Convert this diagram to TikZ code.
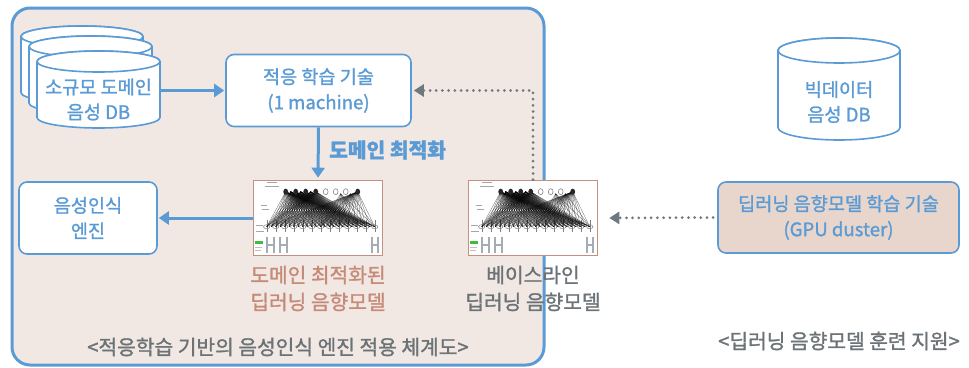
\documentclass[tikz,border=0pt]{standalone}
\usepackage{fontspec}
\setmainfont{Noto Sans CJK KR}[RawFeature={embolden=1.3}]
\usetikzlibrary{arrows.meta}

\definecolor{panelblue}{HTML}{5B9BD5}
\definecolor{panelfill}{HTML}{F1E8E4}
\definecolor{modelbrown}{HTML}{C4907F}
\definecolor{modeltext}{HTML}{C68A78}
\definecolor{capgray}{HTML}{6C7377}
\definecolor{dotgray}{HTML}{6F787F}
\definecolor{gpufill}{HTML}{E8D6CC}
\definecolor{bargray}{HTML}{A4ACB4}

% cylinder: left, right, top-ellipse centre y, bottom-ellipse centre y, y radius
\newcommand\dbdrum[5]{%
  \pgfmathsetmacro\drumrx{(#2-#1)/2}%
  \filldraw[dbline] (#1,#4)
    arc[start angle=180,end angle=360,x radius=\drumrx pt,y radius=#5pt]
    -- (#2,#3)
    arc[start angle=0,end angle=180,x radius=\drumrx pt,y radius=#5pt] -- cycle;
  \draw[dbline] ({(#1+#2)/2},#3) ellipse[x radius=\drumrx pt,y radius=#5pt];
}

\tikzset{
  dbline/.style={draw=panelblue, line width=1.6pt, fill=white},
  dbtext/.style={text=panelblue, font=\fontsize{18.6}{25}\selectfont, align=center, inner sep=0pt},
  whitebox/.style={draw=panelblue, line width=1.6pt, fill=white, rounded corners=8pt,
    text=panelblue, font=\fontsize{18.6}{25.5}\selectfont, align=center},
  gpubox/.style={whitebox, fill=gpufill},
  modelbox/.style={draw=modelbrown, line width=1.6pt, fill=white,
    minimum width=129pt, minimum height=75pt, inner sep=0pt},
  modellabel/.style={font=\fontsize{20.3}{27}\selectfont, align=center, inner sep=0pt},
  steplabel/.style={text=panelblue, font=\fontsize{20.3}{24}\selectfont\bfseries, inner sep=0pt},
  caption/.style={text=capgray, font=\fontsize{20.3}{24}\selectfont, inner sep=0pt},
  bluearrow/.style={draw=panelblue, line width=3pt,
    -{Triangle[length=10pt,width=13pt]}},
  dotarrow/.style={draw=dotgray, line width=3pt, line cap=round,
    dash pattern=on 0pt off 6.2pt, -{Triangle[length=10pt,width=12pt]}},
  netline/.style={black, opacity=0.5, line width=0.4pt},
  nnet/.pic={
    % fan of connections between the layers
    \foreach \t in {33,38,43,48,53,58,63,105}
      \foreach \b in {14,18.5,...,122}
        \draw[netline] (\t,12) -- (\b,47);
    \foreach \t in {88,98}
      \foreach \b in {68,77,...,122}
        \draw[netline] (\t,14) -- (\b,47);
    \foreach \b in {14,23,...,122} {
      \draw[netline] (\b,40) -- (\b,52);
      \draw[black!50, line width=0.5pt] (\b,47) ellipse[x radius=3.2pt, y radius=2pt];
    }
    \foreach \t in {33,43,53,63,105}
      \fill[black!85] (\t,12) ellipse[x radius=2.4pt, y radius=3pt];
    \foreach \t in {73,83,93}
      \draw[black!55, line width=0.5pt] (\t,12) ellipse[x radius=2.4pt, y radius=3pt];
    % small captions of the layers
    \draw[black!35, line width=0.8pt] (14,3) -- (24,3) (12,7) -- (26,7)
      (8,26) -- (14,26) (9,30) -- (16,30) (3,46) -- (10,46) (3,52) -- (11,52);
    % input bars
    \draw[bargray, line width=2.4pt]
      (14,57) -- (14,73) (21,57) -- (21,73) (14,65) -- (21,65)
      (27,57) -- (27,73) (34,57) -- (34,73) (27,65) -- (34,65)
      (119,57) -- (119,73) (125,57) -- (125,73) (119,65) -- (125,65);
    \fill[green!65!black!75] (2,61) rectangle (10,64);
    \draw[black!25, line width=0.6pt] (2,68) -- (9,68) (2,71) -- (8,71);
  }
}

\begin{document}
\begin{tikzpicture}[x=1pt,y=-1pt]
\useasboundingbox (0,0) rectangle (969,367);

% adaptation panel
\draw[panelblue, line width=3pt, fill=panelfill, rounded corners=18pt]
  (12,8) rectangle (544,365);

% stacked small-domain databases
\dbdrum{21}{143}{36.5}{92.5}{10.5}
\dbdrum{29}{152}{46.5}{103}{10.5}
\dbdrum{37}{160}{61.5}{117.5}{10.5}
\node[dbtext, minimum width=123pt] (smalldb) at (98.5,99.5) {소규모 도메인\\음성 DB};

% adaptation training box
\node[whitebox, minimum width=185pt, minimum height=72pt] (adapt) at (318.5,90.5)
  {적응 학습 기술\\(1 machine)};

% recognition engine
\node[whitebox, minimum width=138pt, minimum height=72pt] (engine) at (88,218)
  {음성인식\\엔진};

% acoustic models
\node[modelbox] (tuned) at (318,218) {};
\pic at (tuned.north west) {nnet};
\node[modelbox] (baseline) at (533,218) {};
\pic at (baseline.north west) {nnet};

\node[modellabel, text=modeltext] (tunedlbl) at (318,288.5)
  {도메인 최적화된\\딥러닝 음향모델};
\node[modellabel, text=capgray] (baselbl) at (533,288.5)
  {베이스라인\\딥러닝 음향모델};

\node[steplabel, anchor=west] (optlbl) at (329,150) {도메인 최적화};

% big-data database
\dbdrum{778}{900}{50.5}{127.5}{12.5}
\node[dbtext, minimum width=122pt] (bigdb) at (839,102) {빅데이터\\음성 DB};

% GPU training box
\node[gpubox, minimum width=241pt, minimum height=71pt] (gpu) at (838.5,217.5)
  {딥러닝 음향모델 학습 기술\\(GPU duster)};

% connectors
\draw[bluearrow, shorten >=1pt] (smalldb.east |- adapt.west) -- (adapt.west);
\draw[bluearrow, shorten >=2pt] (adapt.south) -- (tuned.north);
\draw[bluearrow, shorten >=1pt] (tuned.west) -- (engine.east);
\draw[dotarrow, shorten <=4pt, shorten >=11pt] (gpu.west) -- (baseline.east);
\draw[dotarrow, shorten >=2pt] (baseline.north) -- (baseline.north |- adapt.east) -- (adapt.east);

% captions
\node[caption] (cap1) at (278,347) {<적응학습 기반의 음성인식 엔진 적용 체계도>};
\node[caption] (cap2) at (839,341) {<딥러닝 음향모델 훈련 지원>};
\end{tikzpicture}
\end{document}
